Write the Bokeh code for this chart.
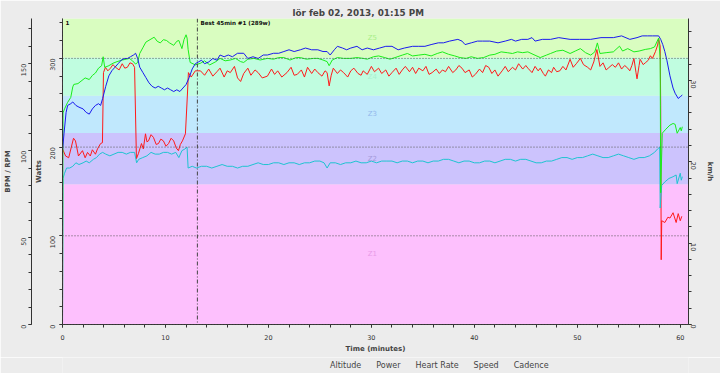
from bokeh.plotting import figure
from bokeh.layouts import column
from bokeh.models import (Range1d, LinearAxis, SingleIntervalTicker, Span, Label,
                          Legend, LegendItem, ColumnDataSource)
from bokeh.embed import file_html
from bokeh.resources import INLINE
import math

TITLE = "lör feb 02, 2013, 01:15 PM"

# ---- zones (watts) ----
zone_names = ["Z1", "Z2", "Z3", "Z4", "Z5"]
zone_lo = [0, 158, 216, 258, 301]
zone_hi = [158, 216, 258, 301, 345]
zone_fill = ["#fdc0fd", "#ccc3fd", "#c0e8fd", "#c0fde0", "#d9fdc0"]
zone_text = ["#e89ae8", "#a49ada", "#94b8ec", "#aaf0d0", "#a8ee88"]

grid_watts = [0, 100, 200, 300]
markers_t = [0.0, 13.1]
markers_txt = ["1", "Best 45min #1 (289w)"]

series_names = ["Altitude", "Power", "Heart Rate", "Speed", "Cadence"]
series_colors = ["#b07040", "#ff1a1a", "#1a1aee", "#1aee1a", "#1ec4d0"]

# ---- Power (W) ----
pw_t = [0.0, 0.3, 0.6, 1.07, 1.26, 1.55, 1.94, 2.2, 2.43, 2.7, 2.9, 3.2, 3.4, 3.7, 3.88,
        3.98, 4.17, 4.4, 4.66, 4.9, 5.15, 5.5, 5.8, 6.05, 6.3, 6.55, 6.8, 7.0,
        7.18, 7.38, 7.67, 7.85, 8.06, 8.2, 8.35, 8.6, 8.83, 9.1, 9.32, 9.55, 9.8, 10.05,
        10.3, 10.55, 10.8, 11.05, 11.26, 11.45, 11.65, 11.94,
        12.14, 12.23, 12.5, 12.9, 13.4, 13.8, 14.2, 14.6, 15.0, 15.3, 15.7, 16.0, 16.3,
        16.7, 17.0, 17.3, 17.6, 18.0, 18.3, 18.7, 19.0, 19.4, 19.9, 20.3, 20.6, 20.9,
        21.3, 21.8, 22.2, 22.5, 22.8, 23.2, 23.5, 23.8, 24.2, 24.5, 24.8, 25.2, 25.5,
        25.7, 25.9, 26.1, 26.3, 26.7, 27.0, 27.3, 27.7, 28.0, 28.3, 28.7, 29.0, 29.2,
        29.6, 30.0, 30.3, 30.7, 31.0, 31.4, 31.7, 32.0, 32.4, 32.7, 33.0, 33.3, 33.7,
        34.0, 34.3, 34.6, 35.0, 35.3, 35.6, 35.9, 36.3, 36.6, 36.9, 37.2, 37.5, 37.9,
        38.2, 38.5, 38.8, 39.1, 39.5, 39.8, 40.1, 40.5, 40.8, 41.1, 41.4, 41.7, 42.0,
        42.3, 42.7, 43.0, 43.3, 43.7, 44.0, 44.3, 44.7, 45.0, 45.2, 45.6, 45.9, 46.2,
        46.4, 46.7, 46.9, 47.2, 47.5, 47.7, 48.0, 48.3, 48.6, 48.9, 49.3, 49.6, 49.9,
        50.3, 50.6, 51.0, 51.3, 51.6, 51.9, 52.2, 52.5, 52.8, 53.0, 53.4, 53.7, 54.0,
        54.3, 54.6, 54.9, 55.1, 55.3, 55.5, 55.7, 55.8, 56.0, 56.1, 56.4, 56.6, 56.9,
        57.1, 57.3, 57.6, 57.8, 57.9, 58.05, 58.1, 58.15, 58.2, 58.5, 58.8, 59.0, 59.3,
        59.6, 59.8, 60.0, 60.15]
pw = [198, 190, 188, 210, 207, 190, 196, 188, 194, 190, 197, 192, 198, 204, 205,
      284, 290, 286, 289, 293, 290, 287, 294, 289, 290, 295, 294, 290,
      187, 193, 204, 198, 215, 206, 207, 214, 211, 203, 204, 209, 207, 201,
      204, 210, 207, 199, 196, 203, 207, 215,
      261, 284, 279, 286, 286, 281, 288, 280, 285, 289, 279, 286, 284,
      291, 278, 274, 283, 289, 281, 287, 284, 278, 280, 288, 282, 286,
      279, 284, 290, 281, 282, 287, 279, 290, 283, 288, 284, 280, 286,
      284, 269, 281, 289, 283, 287, 284, 279, 286, 289, 283, 281, 286,
      282, 291, 285, 289, 283, 287, 280, 284, 289, 282, 287, 291, 285,
      290, 283, 289, 286, 291, 282, 284, 288, 283, 287, 285, 291, 284,
      287, 292, 289, 284, 287, 279, 282, 288, 284, 292, 290, 283, 287,
      280, 286, 291, 285, 290, 287, 294, 288, 292, 289, 284, 291, 286,
      289, 283, 280, 287, 284, 290, 285, 286, 291, 287, 299, 290, 294,
      300, 293, 290, 287, 296, 310, 291, 295, 287, 289, 293, 290, 295,
      288, 292, 289, 286, 292, 300, 284, 277, 292, 299, 293, 295, 298,
      303, 300, 308, 315, 322, 314, 247, 73, 117, 115, 121, 120, 126,
      115, 125, 117, 122]

# ---- Heart rate (bpm) ----
hr_t = [0.0, 0.15, 0.35, 0.5, 0.8, 1.0, 1.3, 1.6, 2.0, 2.3, 2.6, 2.9, 3.2, 3.5, 3.7, 3.9,
        4.2, 4.5, 4.8, 5.1, 5.4, 5.7, 6.0, 6.3, 6.6, 6.9, 7.1, 7.3, 7.5, 7.8, 8.1, 8.4,
        8.7, 9.0, 9.3, 9.6, 9.9, 10.2, 10.5, 10.8, 11.1, 11.4, 11.7, 12.0, 12.3, 12.6,
        12.9, 13.2, 13.5, 13.8, 14.2, 14.6, 15.0, 15.3, 15.7, 16.1, 16.5, 17.0, 17.6,
        18.0, 18.5, 19.0, 19.5, 19.9, 20.5, 21.0, 21.5, 22.0, 22.5, 23.1, 23.6, 24.2,
        24.8, 25.3, 25.7, 26.0, 26.4, 26.7, 27.2, 27.6, 28.0, 28.6, 29.1, 29.6, 30.2,
        30.8, 31.4, 32.0, 32.6, 33.2, 34.0, 34.6, 35.2, 35.8, 36.5, 37.0, 37.6, 38.4,
        38.8, 39.1, 39.7, 40.3, 40.8, 41.5, 42.3, 43.0, 43.6, 44.0, 44.6, 45.2, 45.6,
        45.9, 46.6, 47.4, 48.2, 49.3, 50.2, 51.3, 52.3, 53.5, 54.3, 55.1, 55.8, 56.3,
        56.8, 57.3, 57.9, 58.1, 58.3, 58.5, 58.7, 59.0, 59.3, 59.5, 59.8, 60.0, 60.2]
hr = [100, 110, 122, 126, 127, 128, 126, 125, 124, 122, 121, 124, 126, 127, 126, 130,
      137, 143, 146, 148, 150, 152, 153, 153, 154, 155, 156, 153, 148, 145, 142, 139,
      137, 136, 137, 136, 135, 136, 135, 134, 135, 134, 136, 138, 142, 147,
      150, 151, 152, 150, 151, 153, 152, 155, 154, 155, 154, 156, 156,
      153, 154, 153, 155, 155, 156, 156, 157, 158, 157, 158, 159, 158,
      158, 157, 157, 155, 158, 160, 159, 158, 159, 160, 158, 159, 158,
      159, 160, 160, 158, 159, 160, 160, 160, 161, 162, 162, 163, 164,
      163, 161, 162, 163, 163, 163, 162, 163, 164, 163, 164, 164, 165,
      163, 164, 164, 165, 164, 164, 164, 165, 165, 166, 164, 165, 166,
      166, 166, 166, 164, 161, 157, 152, 143, 136, 133, 130, 131, 132]

# ---- Speed (km/h) ----
sp_t = [0.0, 0.05, 0.2, 0.5, 0.8, 1.0, 1.1, 1.5, 1.8, 2.2, 2.6, 2.9, 3.2, 3.5, 3.8, 3.95,
        4.1, 4.5, 4.9, 5.3, 5.8, 6.2, 6.5, 6.8, 7.1, 7.3, 7.5, 7.8, 8.1, 8.5, 8.9, 9.2,
        9.5, 9.8, 10.1, 10.4, 10.8, 11.1, 11.3, 11.6, 11.8, 12.0, 12.1, 12.2, 12.4,
        12.9, 13.4, 13.8, 14.3, 14.9, 15.3, 15.8, 16.3, 16.8, 17.3, 17.6, 18.0, 18.6,
        19.2, 19.9, 20.5, 21.0, 21.5, 22.1, 22.7, 23.1, 23.7, 24.4, 24.8, 25.3, 25.7,
        25.9, 26.2, 26.7, 27.3, 28.0, 28.6, 29.2, 29.6, 30.2, 30.7, 31.3, 31.8, 32.3,
        33.0, 33.5, 34.0, 34.6, 35.2, 35.8, 36.4, 36.9, 37.5, 38.1, 38.6, 39.2, 39.7,
        40.3, 40.9, 41.5, 42.0, 42.6, 43.2, 43.7, 44.2, 44.7, 45.2, 45.7, 46.4, 47.0,
        47.4, 48.0, 48.6, 49.3, 49.8, 50.3, 50.8, 51.3, 51.7, 51.95, 52.2, 52.8, 53.5,
        54.1, 54.4, 54.9, 55.5, 56.0, 56.6, 57.1, 57.5, 57.9, 58.05, 58.1, 58.25, 58.6,
        59.0, 59.3, 59.5, 59.7, 60.0, 60.1, 60.2]
sp = [0.0, 26.0, 26.5, 27.3, 27.9, 29.2, 29.5, 29.6, 29.9, 30.3, 30.1, 30.6, 30.9, 31.5,
      31.8, 32.9, 31.6, 31.8, 32.1, 32.3, 32.5, 32.6, 32.7, 32.4, 32.0, 32.2, 33.3, 34.0,
      34.7, 35.0, 35.3, 34.8, 34.6, 35.0, 34.9, 34.6, 34.3, 34.8, 34.9, 33.9, 35.0, 35.6,
      35.2, 33.8, 32.2, 31.9, 32.1, 32.4, 31.9, 32.3, 32.7, 32.4, 32.5, 32.7, 32.3, 32.2,
      32.6, 32.7, 32.5, 32.7, 32.6, 32.8, 32.8, 32.5, 32.8, 32.8, 32.6, 32.7, 32.7, 32.5,
      32.3, 31.8, 32.5, 32.8, 32.7, 32.7, 32.8, 32.7, 32.6, 32.9, 33.0, 32.8, 32.6, 32.8,
      33.1, 33.3, 33.0, 33.1, 33.2, 33.0, 33.3, 33.5, 33.2, 33.0, 32.8, 32.7, 32.9, 32.7,
      32.8, 33.1, 33.2, 33.5, 33.4, 33.3, 33.5, 33.4, 33.5, 33.2, 32.8, 33.1, 33.3, 33.6,
      33.7, 33.3, 33.6, 33.9, 33.4, 33.1, 33.5, 34.6, 33.3, 33.4, 33.5, 34.2, 33.6, 33.9,
      33.5, 33.6, 33.8, 33.9, 34.1, 35.2, 32.7, 16.2, 23.5, 24.0, 24.5, 24.7, 24.6, 23.5,
      24.2, 23.8, 24.3]

# ---- Cadence (rpm) ----
cd_t = [0.0, 0.05, 0.2, 0.4, 0.7, 1.0, 1.3, 1.6, 2.0, 2.3, 2.6, 3.0, 3.3, 3.6, 3.9, 4.2,
        4.6, 5.0, 5.4, 5.8, 6.2, 6.6, 7.0, 7.2, 7.4, 7.8, 8.2, 8.6, 9.0, 9.4, 9.8, 10.2,
        10.6, 11.0, 11.3, 11.6, 11.9, 12.1, 12.2, 12.6, 13.0, 13.5, 14.0, 14.5, 15.0,
        15.5, 16.0, 16.5, 17.0, 17.5, 18.0, 18.5, 19.0, 19.5, 20.0, 20.5, 21.0, 21.5,
        22.0, 22.5, 23.0, 23.5, 24.0, 24.5, 25.0, 25.4, 25.7, 26.0, 26.5, 27.0, 27.5,
        28.0, 28.5, 29.0, 29.5, 30.0, 30.5, 31.0, 31.5, 32.0, 32.5, 33.0, 33.5, 34.0,
        34.5, 35.0, 35.5, 36.0, 36.5, 37.0, 37.5, 38.0, 38.5, 39.0, 39.5, 40.0, 40.5,
        41.0, 41.5, 42.0, 42.5, 43.0, 43.5, 44.0, 44.5, 45.0, 45.5, 46.0, 46.5, 47.0,
        47.5, 48.0, 48.5, 49.0, 49.5, 50.0, 50.5, 51.0, 51.5, 52.0, 52.5, 53.0, 53.5,
        54.0, 54.5, 55.0, 55.5, 56.0, 56.5, 57.0, 57.5, 57.8, 58.0, 58.05, 58.2, 58.5,
        58.9, 59.3, 59.6, 59.7, 60.0, 60.1, 60.2]
cd = [0, 84, 87, 90, 90, 91, 93, 92, 93, 94, 93, 95, 96, 98, 99, 98,
      97, 98, 99, 99, 98, 99, 99, 93, 95, 96, 97, 99, 98, 98, 99, 99,
      98, 99, 96, 100, 101, 102, 90, 91, 90, 91, 91, 90, 91,
      92, 91, 91, 90, 91, 91, 92, 93, 92, 92, 93, 93, 92,
      93, 93, 92, 93, 93, 94, 94, 93, 90, 93, 93, 92, 93,
      93, 94, 93, 93, 94, 93, 94, 94, 94, 93, 94, 94, 93,
      94, 94, 93, 94, 94, 95, 95, 94, 93, 94, 94, 93, 93,
      94, 94, 93, 94, 95, 95, 94, 95, 95, 94, 93, 93, 94,
      94, 95, 96, 96, 95, 96, 96, 97, 98, 97, 96, 96, 97,
      98, 97, 96, 95, 96, 96, 97, 99, 101, 102, 67, 80, 82,
      84, 85, 86, 81, 87, 83, 85]

FONT = "DejaVu Sans"
X_MAX = 60.8

fig = figure(width=720, height=357, output_backend="svg", toolbar_location=None,
             x_range=Range1d(0, X_MAX), y_range=Range1d(0, 345),
             background_fill_color="#ececec", border_fill_color="#ececec",
             min_border_left=62, min_border_right=32, min_border_top=18, min_border_bottom=33)
fig.outline_line_color = None
fig.grid.visible = False
fig.extra_y_ranges = {"bpm": Range1d(0, 176), "kmh": Range1d(0, 37.6)}

fig.title.text = TITLE
fig.title.align = "left"
fig.title.offset = 230
fig.title.text_font = FONT
fig.title.text_font_size = "8.8px"
fig.title.text_font_style = "bold"
fig.title.standoff = 2

# zones
zsrc = ColumnDataSource(dict(lo=zone_lo, hi=zone_hi, fill=zone_fill))
fig.quad(left=0, right=X_MAX, bottom="lo", top="hi", fill_color="fill", line_color=None,
         source=zsrc)
for name, lo, hi, col in zip(zone_names, zone_lo, zone_hi, zone_text):
    fig.add_layout(Label(x=30.1, y=(lo + hi) / 2, text=name, text_align="center",
                         text_baseline="middle", text_font=FONT, text_font_size="7px",
                         text_color=col))

for w in grid_watts:
    fig.add_layout(Span(location=w, dimension="width", line_color="#555555",
                        line_dash="1 2", line_width=1))

# series
fig.line(pw_t, pw, color=series_colors[1], line_width=1)
fig.line(cd_t, cd, color=series_colors[4], line_width=1, y_range_name="bpm")
fig.line(sp_t, sp, color=series_colors[3], line_width=1, y_range_name="kmh")
fig.line(hr_t, hr, color=series_colors[2], line_width=1, y_range_name="bpm")

for t, txt in zip(markers_t, markers_txt):
    fig.add_layout(Span(location=t, dimension="height", line_color="#444444",
                        line_dash="4 2 1 2", line_width=1))
    fig.add_layout(Label(x=t, y=343, text=txt, x_offset=3, text_baseline="top",
                         text_font=FONT, text_font_size="5.6px", text_font_style="bold",
                         text_color="#111111"))

def style_axis(ax, label, interval, orient, lab_sd, title_sd):
    ax.ticker = SingleIntervalTicker(interval=interval, num_minor_ticks=5)
    ax.axis_label = label
    ax.axis_label_text_font = FONT
    ax.axis_label_text_font_size = "7px"
    ax.axis_label_text_font_style = "bold"
    ax.axis_label_standoff = title_sd
    ax.major_label_text_font = FONT
    ax.major_label_text_font_size = "6.5px"
    ax.major_label_text_color = "#333333"
    ax.major_label_standoff = lab_sd
    ax.axis_line_color = "#333333"
    ax.major_tick_line_color = "#333333"
    ax.minor_tick_line_color = "#333333"
    ax.major_tick_out = 3
    ax.major_tick_in = 0
    ax.minor_tick_out = 3
    ax.minor_tick_in = 0
    if orient is not None:
        ax.major_label_orientation = orient

style_axis(fig.xaxis[0], "Time (minutes)", 10, None, 7, 2)
style_axis(fig.yaxis[0], "Watts", 100, math.pi / 2, 7, 2)
bpm_ax = LinearAxis(y_range_name="bpm")
style_axis(bpm_ax, "BPM / RPM", 50, math.pi / 2, 5, 4)
fig.add_layout(bpm_ax, "left")
kmh_ax = LinearAxis(y_range_name="kmh")
style_axis(kmh_ax, "km/h", 10, -math.pi / 2, 2, 4)
fig.add_layout(kmh_ax, "right")

# ---- legend strip (a small figure holding only the legend) ----
leg = figure(width=720, height=16, output_backend="svg", toolbar_location=None,
             x_range=Range1d(0, 1), y_range=Range1d(0, 1),
             x_axis_location=None, y_axis_location=None,
             background_fill_color="#ececec", border_fill_color="#ececec",
             min_border=0)
leg.outline_line_color = None
leg.grid.visible = False
items = []
for name, col in zip(series_names, series_colors):
    r = leg.line([], [], color=col, line_width=1)
    items.append(LegendItem(label=name, renderers=[r]))
legend = Legend(items=items, orientation="horizontal", location=(258, 3),
                label_text_font=FONT, label_text_font_size="8px",
                glyph_width=6, glyph_height=8, label_height=8, label_standoff=4,
                spacing=5, padding=0, margin=0, border_line_alpha=0,
                background_fill_alpha=0)
leg.add_layout(legend, "center")

p = column(fig, leg, spacing=0)

open("out.html", "w").write(file_html(p, INLINE))
